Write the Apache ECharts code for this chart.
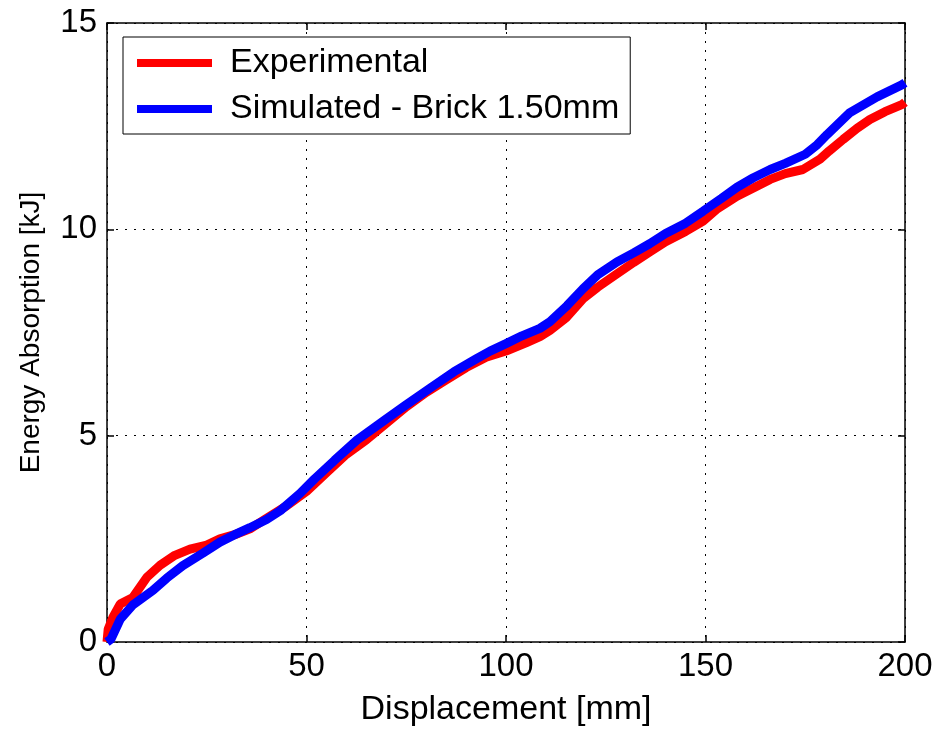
<!DOCTYPE html>
<html>
<head>
<meta charset="utf-8">
<script src="https://cdn.jsdelivr.net/npm/echarts@6/dist/echarts.min.js"></script>
<style>
html,body{margin:0;padding:0;background:#fff;}
#chart{width:937px;height:732px;}
</style>
</head>
<body>
<div id="chart"></div>
<script>
const seriesNames = ['Experimental', 'Simulated - Brick 1.50mm'];
const xTitle = 'Displacement [mm]';
const yTitle = 'Energy Absorption [kJ]';

const expX = [0, 0.3, 1.5, 3.3, 6.5, 10, 13.3, 17, 20.8, 25, 28.3, 32, 36, 40, 45, 50, 55, 60, 65, 70, 75, 80, 85, 90, 95, 100, 105, 108.5, 111, 115, 119.3, 123, 127.8, 132, 136, 140, 145, 149.4, 153, 157.9, 162, 166.2, 170, 174.4, 178.7, 181, 184.5, 188, 191.2, 195, 199.2, 200];
const expY = [0.0, 0.31, 0.6, 0.92, 1.08, 1.57, 1.86, 2.1, 2.25, 2.35, 2.5, 2.6, 2.75, 3.0, 3.3, 3.65, 4.1, 4.55, 4.9, 5.3, 5.7, 6.05, 6.35, 6.65, 6.9, 7.05, 7.25, 7.4, 7.55, 7.85, 8.32, 8.6, 8.92, 9.2, 9.45, 9.7, 9.95, 10.2, 10.5, 10.8, 11.0, 11.21, 11.35, 11.45, 11.7, 11.9, 12.18, 12.45, 12.66, 12.85, 13.02, 13.08];

const simX = [0, 1, 3.3, 6.5, 11.5, 15, 19, 24, 28.3, 32, 35.8, 40, 43.4, 48.4, 52, 57, 62.7, 69.2, 75, 81.7, 87, 92.7, 96, 100, 104, 108.5, 111, 115.3, 119.3, 123, 127.8, 132, 136, 140, 145, 149.4, 154, 157.9, 162, 166.2, 170, 175, 178, 180.5, 186.2, 193, 199.2, 200];
const simY = [0, 0.07, 0.55, 0.9, 1.25, 1.55, 1.85, 2.15, 2.42, 2.6, 2.77, 2.97, 3.18, 3.6, 3.95, 4.4, 4.9, 5.35, 5.75, 6.2, 6.55, 6.87, 7.05, 7.23, 7.42, 7.6, 7.76, 8.15, 8.56, 8.9, 9.21, 9.43, 9.65, 9.9, 10.15, 10.44, 10.75, 11.02, 11.25, 11.45, 11.6, 11.82, 12.05, 12.3, 12.83, 13.21, 13.5, 13.55];

const xMin = 0, xMax = 200, xStep = 50;
const yMin = 0, yMax = 15, yStep = 5;

const pair = (xs, ys) => xs.map((x, i) => [x, ys[i]]);
const font = 'Liberation Sans, Arial, Helvetica, sans-serif';

const chart = echarts.init(document.getElementById('chart'));
const gridLine = {show: true, lineStyle: {color: '#000', width: 1, type: [2, 7]}};
const axisLine = {show: true, onZero: false, lineStyle: {color: '#000', width: 1.5}};
const tick = {show: true, inside: true, length: 7, lineStyle: {color: '#000', width: 1.5}};

chart.setOption({
  backgroundColor: '#fff',
  animation: false,
  grid: {left: 107, right: 32, top: 23, bottom: 87},
  legend: {
    orient: 'vertical',
    left: 123, top: 37,
    padding: [9, 11, 8, 14],
    itemGap: 12,
    itemWidth: 75, itemHeight: 8,
    icon: 'rect',
    borderColor: '#000', borderWidth: 1,
    backgroundColor: '#fff',
    textStyle: {fontFamily: font, fontSize: 34, color: '#000', padding: [0, 0, 0, 13]},
    data: seriesNames
  },
  xAxis: [{
    type: 'value', min: xMin, max: xMax, interval: xStep,
    name: xTitle, nameLocation: 'middle', nameGap: 51,
    nameTextStyle: {fontFamily: font, fontSize: 34, color: '#000'},
    axisLabel: {fontFamily: font, fontSize: 33, color: '#000', margin: 8},
    axisLine: axisLine, axisTick: tick, splitLine: gridLine
  }, {
    type: 'value', min: xMin, max: xMax, interval: xStep, position: 'top',
    axisLabel: {show: false}, axisLine: axisLine, axisTick: tick, splitLine: {show: false}
  }],
  yAxis: [{
    type: 'value', min: yMin, max: yMax, interval: yStep,
    name: yTitle, nameLocation: 'middle', nameGap: 62,
    nameTextStyle: {fontFamily: font, fontSize: 28, color: '#000'},
    axisLabel: {fontFamily: font, fontSize: 33, color: '#000', margin: 10},
    axisLine: axisLine, axisTick: tick, splitLine: gridLine
  }, {
    type: 'value', min: yMin, max: yMax, interval: yStep, position: 'right',
    axisLabel: {show: false}, axisLine: axisLine, axisTick: tick, splitLine: {show: false}
  }],
  series: [{
    name: seriesNames[0], type: 'line', showSymbol: false, symbol: 'none',
    color: '#ff0000', lineStyle: {color: '#ff0000', width: 9},
    data: pair(expX, expY), z: 2
  }, {
    name: seriesNames[1], type: 'line', showSymbol: false, symbol: 'none',
    color: '#0000ff', lineStyle: {color: '#0000ff', width: 9},
    data: pair(simX, simY), z: 3
  }]
});
</script>
</body>
</html>
